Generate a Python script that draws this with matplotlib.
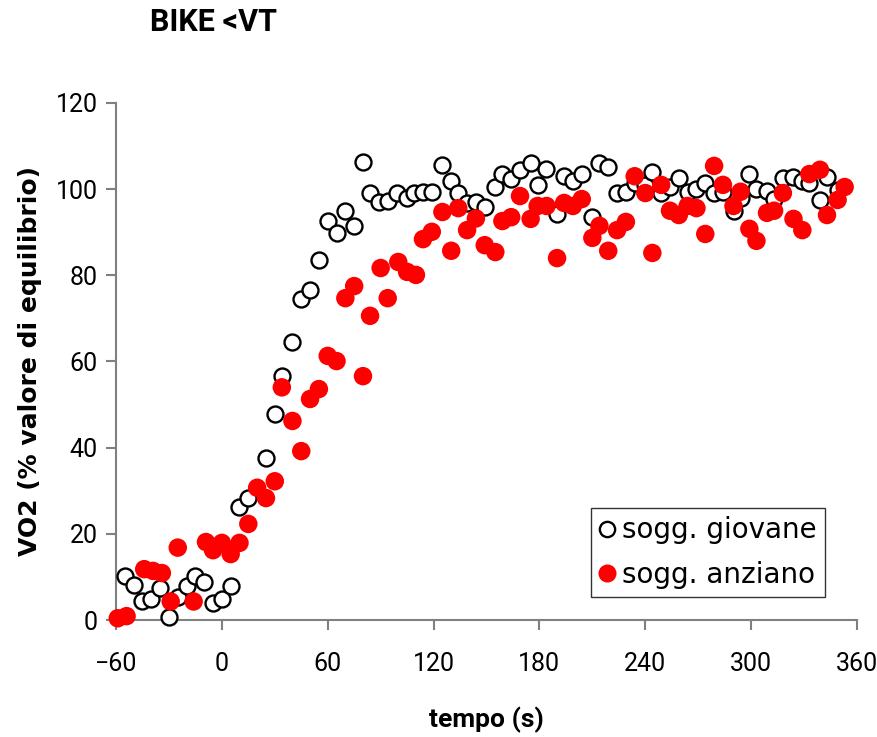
import matplotlib
matplotlib.use("Agg")
import matplotlib.pyplot as plt
from matplotlib.lines import Line2D

# Time (s) and VO2 (% of steady-state value), young subject
t_giovane = [-55, -50, -45, -40, -35, -30, -25, -20, -15, -10, -5, 0, 5, 10, 15,
             25, 30, 34, 40, 45, 50, 55, 60, 65, 70, 75, 80, 84, 89, 94, 99,
             105, 109, 114, 119, 125, 130, 134, 139, 144, 149, 155, 159, 164,
             169, 175, 179, 184, 190, 194, 199, 204, 210, 214, 219, 224, 229,
             234, 240, 244, 249, 254, 259, 264, 269, 274, 279, 284, 290, 294,
             299, 303, 309, 313, 318, 324, 329, 333, 339, 343, 349]
vo2_giovane = [10.2, 8.1, 4.4, 4.8, 7.4, 0.7, 5.3, 7.9, 10.2, 8.8, 3.9, 4.9, 7.9,
               26.2, 28.3, 37.6, 47.8, 56.6, 64.5, 74.5, 76.6, 83.6, 92.6, 89.9,
               95.0, 91.5, 106.3, 99.1, 97.0, 97.3, 99.1, 98.0, 99.1, 99.4, 99.4,
               105.6, 101.9, 99.1, 96.8, 97.0, 95.9, 100.5, 103.5, 102.4, 104.5,
               106.0, 101.0, 104.7, 94.2, 103.0, 101.9, 103.5, 93.5, 106.0, 105.2,
               99.1, 99.4, 101.4, 101.0, 104.0, 99.1, 100.5, 102.6, 99.4, 100.0,
               101.4, 99.1, 99.4, 95.0, 98.0, 103.5, 100.0, 99.6, 97.7, 102.6,
               102.8, 101.9, 101.4, 97.5, 102.8, 99.8]

# Time (s) and VO2 (% of steady-state value), elderly subject
t_anziano = [-59, -54, -44, -39, -34, -29, -25, -16, -9, -5, 0, 5, 10, 15, 20, 25,
             30, 34, 40, 45, 50, 55, 60, 65, 70, 75, 80, 84, 90, 94, 100, 105,
             110, 114, 119, 125, 130, 134, 139, 144, 149, 155, 159, 164, 169,
             175, 179, 184, 190, 194, 199, 204, 210, 214, 219, 224, 229, 234,
             240, 244, 249, 254, 259, 264, 269, 274, 279, 284, 290, 294, 299,
             303, 309, 313, 318, 324, 329, 333, 339, 343, 349, 353]
vo2_anziano = [0.4, 0.9, 11.8, 11.4, 10.9, 4.3, 16.8, 4.3, 18.1, 16.2, 17.9, 15.3,
               17.9, 22.3, 30.7, 28.3, 32.2, 54.0, 46.2, 39.2, 51.3, 53.6, 61.3,
               60.1, 74.7, 77.5, 56.6, 70.6, 81.7, 74.7, 83.1, 80.8, 80.1, 88.4,
               90.1, 94.7, 85.7, 95.6, 90.5, 93.2, 87.0, 85.4, 92.6, 93.5, 98.4,
               93.1, 96.1, 96.1, 84.0, 96.8, 96.1, 97.7, 88.7, 91.5, 85.7, 90.5,
               92.4, 103.0, 99.1, 85.2, 101.0, 95.0, 94.0, 96.1, 95.6, 89.6,
               105.4, 101.0, 96.1, 99.4, 90.8, 88.0, 94.5, 95.0, 99.1, 93.1, 90.5,
               103.5, 104.5, 94.0, 97.5, 100.5]

x_ticks = [-60, 0, 60, 120, 180, 240, 300, 360]
y_ticks = [0, 20, 40, 60, 80, 100, 120]
label_giovane = "sogg. giovane"
label_anziano = "sogg. anziano"

plt.rcParams["font.family"] = ["DejaVu Sans"]
axis_grey = "#808080"

fig = plt.figure(figsize=(8.78, 7.37), dpi=100)
ax = fig.add_axes([116 / 878, 1 - 620 / 737, (857 - 116) / 878, (620 - 103) / 737])

ax.scatter(t_giovane, vo2_giovane, s=11.5 ** 2, facecolors="white",
           edgecolors="black", linewidths=1.7, clip_on=False, zorder=3)
ax.scatter(t_anziano, vo2_anziano, s=13.3 ** 2, facecolors="#ff0000",
           edgecolors="none", clip_on=False, zorder=4)

ax.set_xlim(-60, 360)
ax.set_ylim(0, 120)
ax.set_xticks(x_ticks)
ax.set_yticks(y_ticks)

for side in ("top", "right"):
    ax.spines[side].set_visible(False)
for side in ("left", "bottom"):
    ax.spines[side].set_color(axis_grey)
    ax.spines[side].set_linewidth(1.5)

ax.tick_params(axis="both", direction="out", length=7, width=1.5,
               color=axis_grey, labelcolor="black")
for lab in ax.get_xticklabels() + ax.get_yticklabels():
    lab.set_family("Roboto")
    lab.set_fontsize(18)
ax.tick_params(axis="x", pad=16)
ax.tick_params(axis="y", pad=6)

ax.set_xlabel("tempo (s)", fontsize=19, fontweight="bold", family="Roboto",
              labelpad=22)
ax.set_ylabel("VO2 (% valore di equilibrio)", fontsize=18, fontweight="bold",
              labelpad=10)

fig.text(150 / 878, 1 - 22 / 737, "BIKE <VT", fontsize=22, fontweight="bold",
         family="Roboto", ha="left", va="center")

handles = [
    Line2D([], [], linestyle="none", marker="o", markersize=11,
           markerfacecolor="white", markeredgecolor="black", markeredgewidth=1.7),
    Line2D([], [], linestyle="none", marker="o", markersize=13,
           markerfacecolor="#ff0000", markeredgecolor="none"),
]
leg = ax.legend(handles, [label_giovane, label_anziano], loc="upper left",
                bbox_to_anchor=(591 / 878, 1 - 508 / 737),
                bbox_transform=fig.transFigure, fontsize=20, frameon=True,
                fancybox=False, edgecolor="black", handlelength=0.55,
                handletextpad=0.25, borderpad=0.3, labelspacing=0.6,
                borderaxespad=0)
leg.get_frame().set_linewidth(1.0)

fig.savefig("out.png", dpi=100)
